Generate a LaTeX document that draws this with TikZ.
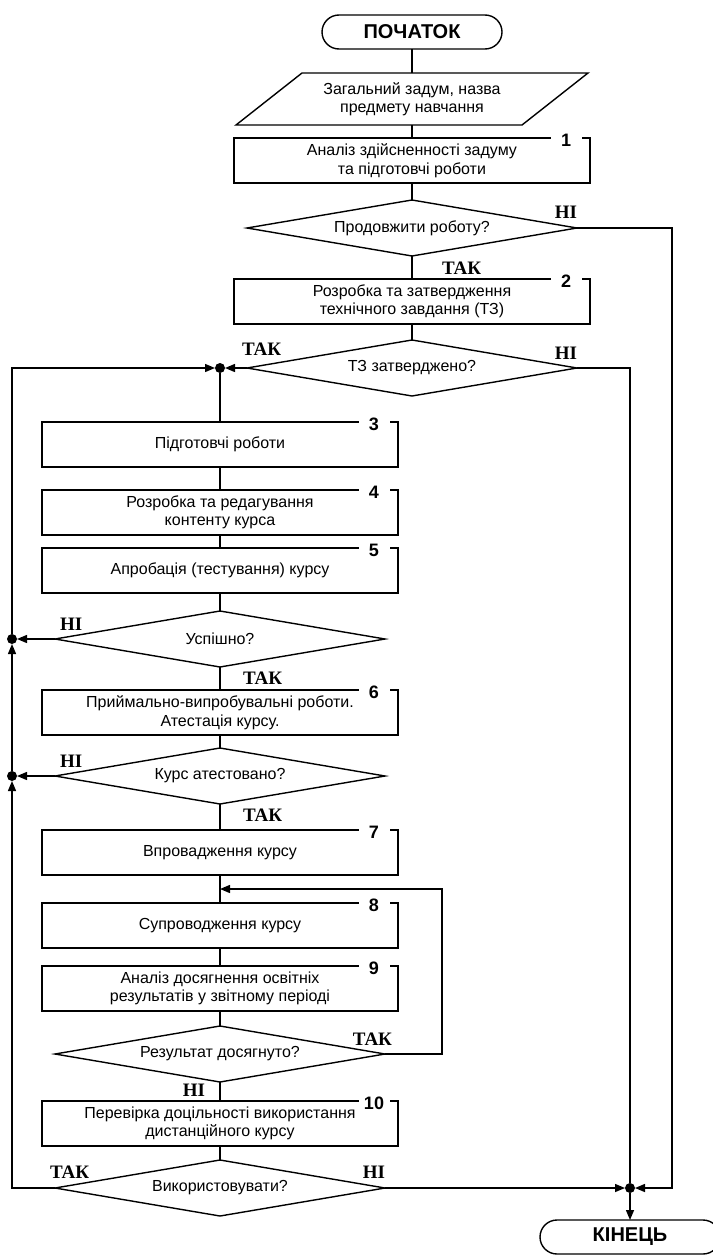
\documentclass[tikz,border=0pt]{standalone}
\usepackage{fontspec}
\setmainfont{Liberation Sans}
\newfontfamily\yesnofont{Liberation Serif}
\usetikzlibrary{arrows.meta,positioning,shapes.geometric,calc}

\begin{document}
\begin{tikzpicture}[x=1pt,y=-1pt,>={Triangle[length=10pt,width=8pt]},line width=1.4pt,every node/.append style={outer sep=0pt}]
\tikzstyle{stepbox}=[draw,minimum width=356pt,minimum height=45pt,align=center,inner sep=2pt,font=\fontsize{16}{18.5}\selectfont]
\tikzstyle{iobox}=[minimum width=286pt,minimum height=52pt,align=center,inner sep=2pt,font=\fontsize{16}{18.5}\selectfont]
\tikzstyle{ask}=[draw,diamond,aspect=5.9,minimum width=330pt,minimum height=56pt,inner sep=1pt,font=\fontsize{16}{18.5}\selectfont]
\tikzstyle{term}=[draw,rounded corners=17pt,minimum width=180pt,minimum height=34pt,font=\fontsize{20}{20}\selectfont\bfseries]
\tikzstyle{joint}=[circle,fill,inner sep=0pt,minimum size=10pt]
\tikzstyle{answer}=[inner sep=0pt,font=\yesnofont\fontsize{19}{19}\selectfont\bfseries]
\tikzstyle{boxnum}=[fill=white,inner sep=0pt,minimum width=31pt,minimum height=15pt,font=\fontsize{18}{18}\selectfont\bfseries]
\useasboundingbox (0,0) rectangle (712,1258);

% upper column
\node[term] (start) at (412,32) {ПОЧАТОК};
\node[iobox,below=24pt of start] (input) {Загальний задум, назва\\предмету навчання};
\draw ($(input.north west)+(33,0)$) -- ($(input.north east)+(33,0)$) -- ($(input.south east)+(-33,0)$) -- ($(input.south west)+(-33,0)$) -- cycle;
\node[stepbox,below=13pt of input] (b1) {Аналіз здійсненності задуму\\та підготовчі роботи};
\node[ask,below=17pt of b1] (d1) {Продовжити роботу?};
\node[stepbox,below=23pt of d1] (b2) {Розробка та затвердження\\технічного завдання (ТЗ)};
\node[ask,below=16pt of b2] (d2) {ТЗ затверджено?};

% lower column
\node[joint,left=22pt of d2] (j1) {};
\node[stepbox,below=49pt of j1] (b3) {Підготовчі роботи};
\node[stepbox,below=23pt of b3] (b4) {Розробка та редагування\\контенту курса};
\node[stepbox,below=13pt of b4] (b5) {Апробація (тестування) курсу};
\node[ask,below=18pt of b5] (d3) {Успішно?};
\node[stepbox,below=23pt of d3] (b6) {Приймально-випробувальні роботи.\\Атестація курсу.};
\node[ask,below=13pt of b6] (d4) {Курс атестовано?};
\node[stepbox,below=26pt of d4] (b7) {Впровадження курсу};
\node[stepbox,below=28pt of b7] (b8) {Супроводження курсу};
\node[stepbox,below=18pt of b8] (b9) {Аналіз досягнення освітніх\\результатів у звітному періоді};
\node[ask,below=15pt of b9] (d5) {Результат досягнуто?};
\node[stepbox,below=19pt of d5] (b10) {Перевірка доцільності використання\\дистанційного курсу};
\node[ask,below=14pt of b10] (d6) {Використовувати?};

\node[joint,left=38pt of d3] (j3) {};
\node[joint,left=38pt of d4] (j4) {};
\node[joint,right=240pt of d6] (jend) {};
\node[term,below=27pt of jend] (end) {КІНЕЦЬ};

\coordinate (ret) at ($(b7.south)!.5!(b8.north)$);
\coordinate (rail) at (672,0);
\coordinate (loop) at (442,0);

\foreach \b/\n in {b1/1,b2/2,b3/3,b4/4,b5/5,b6/6,b7/7,b8/8,b9/9,b10/10}{\node[boxnum] (n\n) at ($(\b.north east)+(-24,2)$) {\n};}

% connectors
\foreach \a/\b in {start/input,input/b1,b1/d1,d1/b2,b2/d2,j1/b3,b3/b4,b4/b5,b5/d3,d3/b6,b6/d4,d4/b7,b7/b8,b8/b9,b9/d5,d5/b10,b10/d6}{\draw (\a) -- (\b);}
\draw[->] (d2.west) -- (j1);
\draw[->] (d3.west) -- (j3);
\draw[->] (d4.west) -- (j4);
\draw[->] (d6.west) -| (j4);
\draw[->] (j4) -- (j3);
\draw[->] (j3) |- (j1);
\draw[->] (d1.east) -- (d1.east -| rail) |- (jend);
\draw (d2.east) -| (jend);
\draw[->] (d6.east) -- (jend);
\draw[->] (jend) -- (end);
\draw[->] (d5.east) -- (d5.east -| loop) |- (ret);

% answers
\node[answer,anchor=south east,yshift=10pt] (no1) at (d1.east) {НІ};
\node[answer,anchor=north west,xshift=30pt,yshift=-6pt] (yes1) at (d1.south) {ТАК};
\node[answer,anchor=south west,xshift=-5pt,yshift=13pt] (yes2) at (d2.west) {ТАК};
\node[answer,anchor=south east,yshift=9pt] (no2) at (d2.east) {НІ};
\node[answer,anchor=south west,xshift=5pt,yshift=9pt] (no3) at (d3.west) {НІ};
\node[answer,anchor=north west,xshift=23pt,yshift=-5pt] (yes3) at (d3.south) {ТАК};
\node[answer,anchor=south west,xshift=5pt,yshift=9pt] (no4) at (d4.west) {НІ};
\node[answer,anchor=north west,xshift=23pt,yshift=-5pt] (yes4) at (d4.south) {ТАК};
\node[answer,anchor=south east,xshift=7pt,yshift=9pt] (yes5) at (d5.east) {ТАК};
\node[answer,anchor=north east,xshift=-15pt,yshift=-2pt] (no5) at (d5.south) {НІ};
\node[answer,anchor=south west,xshift=-5pt,yshift=10pt] (yes6) at (d6.west) {ТАК};
\node[answer,anchor=south east,yshift=10pt] (no6) at (d6.east) {НІ};
\end{tikzpicture}
\end{document}
